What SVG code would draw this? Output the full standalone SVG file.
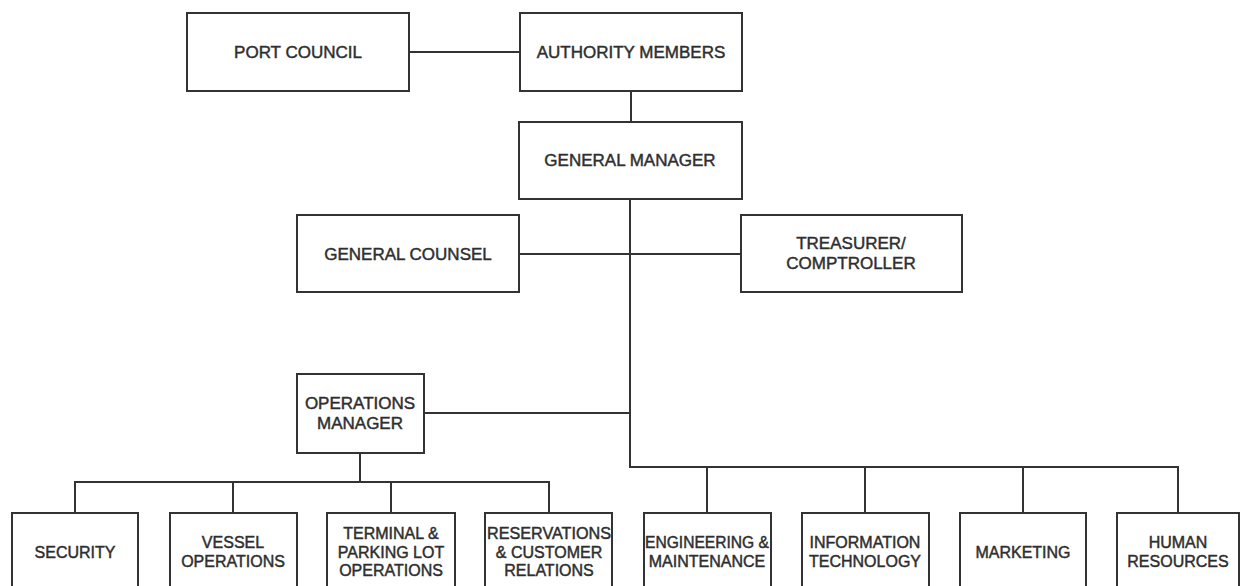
<svg xmlns="http://www.w3.org/2000/svg" width="1244" height="586" viewBox="0 0 1244 586">
<style>
.box{fill:#fff;stroke:#333;stroke-width:2}
.ln{fill:none;stroke:#333;stroke-width:2}
text{font-family:"Liberation Sans",Arial,sans-serif;fill:#2e2e2e;stroke:#2e2e2e;stroke-width:0.45;text-anchor:middle}
.t{font-size:17px}
.b{font-size:16px}
</style>
<rect width="1244" height="586" fill="#fff"/>
<g id="connectors">
<path class="ln" d="M409 52H520"/>
<path class="ln" d="M631 91V122"/>
<path class="ln" d="M630 199V467H1178V513"/>
<path class="ln" d="M519 254H741"/>
<path class="ln" d="M424 413H630"/>
<path class="ln" d="M707 467V513M865 467V513M1023 467V513"/>
<path class="ln" d="M360 453V482M75 513V482H549V513M233 482V513M391 482V513"/>
</g>
<g id="port-council"><rect class="box" x="187" y="13" width="222" height="78"/><text class="t" x="298" y="58">PORT COUNCIL</text></g>
<g id="authority-members"><rect class="box" x="520" y="13" width="222" height="78"/><text class="t" x="631" y="58">AUTHORITY MEMBERS</text></g>
<g id="general-manager"><rect class="box" x="519" y="122" width="223" height="77"/><text class="t" x="630" y="166">GENERAL MANAGER</text></g>
<g id="general-counsel"><rect class="box" x="297" y="215" width="222" height="77"/><text class="t" x="408" y="260">GENERAL COUNSEL</text></g>
<g id="treasurer"><rect class="box" x="741" y="215" width="221" height="77"/><text class="t" x="851" y="249">TREASURER/</text><text class="t" x="851" y="269">COMPTROLLER</text></g>
<g id="operations-manager"><rect class="box" x="297" y="374" width="127" height="79"/><text class="t" x="360" y="409">OPERATIONS</text><text class="t" x="360" y="429">MANAGER</text></g>
<g id="security"><rect class="box" x="12" y="513" width="126" height="90"/><text class="b" x="75" y="558">SECURITY</text></g>
<g id="vessel-operations"><rect class="box" x="170" y="513" width="127" height="90"/><text class="b" x="233" y="548">VESSEL</text><text class="b" x="233" y="567">OPERATIONS</text></g>
<g id="terminal"><rect class="box" x="327" y="513" width="128" height="90"/><text class="b" x="391" y="539">TERMINAL &amp;</text><text class="b" x="391" y="558">PARKING LOT</text><text class="b" x="391" y="576">OPERATIONS</text></g>
<g id="reservations"><rect class="box" x="485" y="513" width="127" height="90"/><text class="b" x="549" y="539" textLength="124" lengthAdjust="spacingAndGlyphs">RESERVATIONS</text><text class="b" x="549" y="558">&amp; CUSTOMER</text><text class="b" x="549" y="576">RELATIONS</text></g>
<g id="engineering"><rect class="box" x="644" y="513" width="127" height="90"/><text class="b" x="707" y="548" textLength="124" lengthAdjust="spacingAndGlyphs">ENGINEERING &amp;</text><text class="b" x="707" y="567">MAINTENANCE</text></g>
<g id="information-technology"><rect class="box" x="802" y="513" width="127" height="90"/><text class="b" x="865" y="548">INFORMATION</text><text class="b" x="865" y="567">TECHNOLOGY</text></g>
<g id="marketing"><rect class="box" x="960" y="513" width="126" height="90"/><text class="b" x="1023" y="558">MARKETING</text></g>
<g id="human-resources"><rect class="box" x="1117" y="513" width="122" height="90"/><text class="b" x="1178" y="548">HUMAN</text><text class="b" x="1178" y="567">RESOURCES</text></g>
</svg>
